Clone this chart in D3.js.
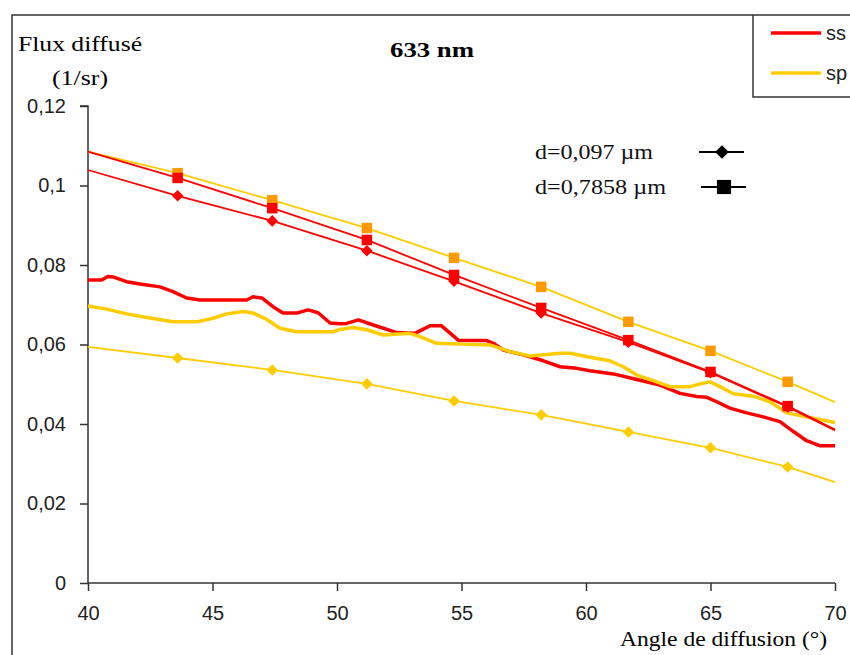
<!DOCTYPE html>
<html><head><meta charset="utf-8">
<script src="https://cdn.jsdelivr.net/npm/d3@7"></script>
<style>body{margin:0;background:#fff;overflow:hidden}</style>
</head><body><svg id="c" width="850" height="655"></svg>
<script>
// ---- data ----
const xTicks = [40, 45, 50, 55, 60, 65, 70];
const yTicks = [0, 0.02, 0.04, 0.06, 0.08, 0.1, 0.12];
const yTickLabels = ["0", "0,02", "0,04", "0,06", "0,08", "0,1", "0,12"];
const seriesNames = ["ss", "sp"];
const modelNames = ["d=0,097 µm", "d=0,7858 µm"];

// model curves (ends at 40 and 70 carry no marker)
const modelAngles = [40, 43.6, 47.4, 51.2, 54.7, 58.2, 61.7, 65.0, 68.1, 70];
const ssThin = [0.1039, 0.0974, 0.0911, 0.0836, 0.0759, 0.0679, 0.0606, 0.0529, 0.0443, 0.0384];
const ssThick = [0.1085, 0.1019, 0.0943, 0.0863, 0.0775, 0.0692, 0.0611, 0.0531, 0.0445, 0.0386];
const spThin = [0.0594, 0.0566, 0.0536, 0.0501, 0.0458, 0.0423, 0.0380, 0.0340, 0.0292, 0.0254];
const spThick = [0.1085, 0.1031, 0.0963, 0.0893, 0.0818, 0.0745, 0.0657, 0.0584, 0.0506, 0.0455];

// measured curves
const ssAngles = [40,40.55,40.8,41.0,41.55,42.09,42.89,43.41,43.96,44.5,46.37,46.63,46.98,47.43,47.83,48.38,48.84,49.24,49.72,50.12,50.39,50.86,51.46,52.4,53.13,53.73,54.2,54.87,56.01,56.28,56.68,57.48,58.29,58.96,59.63,60.16,61.1,62.04,62.97,63.78,64.45,64.85,65.25,65.78,66.45,67.12,67.79,68.33,68.86,69.4,70];
const ssMeas = [0.0762,0.0762,0.0771,0.0770,0.0758,0.0752,0.0745,0.0733,0.0717,0.0712,0.0712,0.0720,0.0717,0.0695,0.0679,0.0679,0.0687,0.0680,0.0654,0.0652,0.0653,0.0662,0.0649,0.0630,0.0628,0.0647,0.0647,0.0611,0.0610,0.0603,0.0586,0.0574,0.0559,0.0544,0.0540,0.0534,0.0526,0.0512,0.0498,0.0477,0.0469,0.0467,0.0456,0.0440,0.0428,0.0418,0.0406,0.0381,0.0358,0.0345,0.0345];
const spAngles = [40,40.75,41.55,42.36,43.41,44.37,45.02,45.57,46.22,46.63,47.18,47.71,48.38,49.84,50.12,50.65,51.19,51.86,52.93,53.33,54.0,56.14,56.95,57.75,58.96,59.36,60.16,60.96,61.5,62.04,62.7,63.37,64.18,64.58,64.98,65.38,65.92,66.72,67.39,68.06,68.86,70];
const spMeas = [0.0697,0.0689,0.0677,0.0668,0.0657,0.0657,0.0666,0.0677,0.0683,0.0679,0.0663,0.0641,0.0632,0.0632,0.0638,0.0643,0.0637,0.0624,0.0628,0.0620,0.0603,0.0599,0.0582,0.0571,0.0578,0.0578,0.0568,0.0559,0.0544,0.0523,0.0509,0.0494,0.0494,0.0501,0.0506,0.0494,0.0476,0.0470,0.0456,0.0428,0.0418,0.0404];

// ---- drawing ----
const RED = "#ff0000", YEL = "#ffcc00", ORA = "#ff9900", AX = "#333";
const SANS = "'Liberation Sans', Arial, sans-serif";
const SERIF = "'Liberation Serif', 'Times New Roman', serif";
const svg = d3.select("#c");
const x = d3.scaleLinear().domain([40, 70]).range([88, 835]);
const y = d3.scaleLinear().domain([0, 0.12]).range([583, 106]);

// outer frame
svg.append("rect").attr("x", 12).attr("y", 15).attr("width", 900).attr("height", 700)
  .attr("fill", "none").attr("stroke", AX).attr("stroke-width", 1.5);

// axes
const yAxis = d3.axisLeft(y).tickValues(yTicks).tickSize(8).tickPadding(14)
  .tickFormat((d, i) => yTickLabels[i]);
const xAxis = d3.axisBottom(x).tickValues(xTicks).tickSize(8).tickPadding(15)
  .tickFormat(d => String(d));
function styleAxis(g) {
  g.select(".domain").attr("stroke", AX).attr("stroke-width", 1.5);
  g.selectAll(".tick line").attr("stroke", AX).attr("stroke-width", 1.5);
  g.selectAll(".tick text").attr("fill", "#222").style("font-family", SANS).style("font-size", "20px");
}
svg.append("g").attr("transform", "translate(88,0)").call(yAxis).call(styleAxis)
  .select(".domain").attr("d", `M-8,${y(0.12)}H0V${y(0)}`);
svg.append("g").attr("transform", "translate(0,583)").call(xAxis).call(styleAxis)
  .select(".domain").attr("d", `M${x(40)},0H${x(70)}`);

// lines
const line = d3.line().x(d => x(d[0])).y(d => y(d[1]));
function drawLine(ax, vals, color, w) {
  svg.append("path").datum(ax.map((a, i) => [a, vals[i]]))
    .attr("d", line).attr("fill", "none").attr("stroke", color)
    .attr("stroke-width", w).attr("stroke-linejoin", "round");
}
drawLine(ssAngles, ssMeas, RED, 3.5);
drawLine(spAngles, spMeas, YEL, 3.5);
drawLine(modelAngles, spThin, YEL, 1.8);
drawLine(modelAngles, spThick, YEL, 1.8);
drawLine(modelAngles, ssThin, RED, 1.8);
drawLine(modelAngles, ssThick, RED, 1.8);

// markers
const diamond = d3.symbol().type(d3.symbolDiamond2).size(85);
const square = d3.symbol().type(d3.symbolSquare).size(110);
function drawMarks(vals, sym, color) {
  const pts = modelAngles.map((a, i) => [a, vals[i]]).slice(1, -1);
  svg.append("g").selectAll("path").data(pts).join("path")
    .attr("d", sym).attr("fill", color)
    .attr("transform", d => `translate(${x(d[0])},${y(d[1])})`);
}
drawMarks(spThin, diamond, YEL);
drawMarks(spThick, square, ORA);
drawMarks(ssThin, diamond, RED);
drawMarks(ssThick, square, RED);

// titles
svg.append("text").attr("x", 18).attr("y", 51).text("Flux diffusé")
  .style("font-family", SERIF).style("font-size", "22px")
  .attr("textLength", 124).attr("lengthAdjust", "spacingAndGlyphs");
svg.append("text").attr("x", 52).attr("y", 85).text("(1/sr)")
  .style("font-family", SERIF).style("font-size", "22px")
  .attr("textLength", 56).attr("lengthAdjust", "spacingAndGlyphs");
svg.append("text").attr("x", 390).attr("y", 57).text("633 nm")
  .style("font-family", SERIF).style("font-size", "21px").style("font-weight", "bold")
  .attr("textLength", 84).attr("lengthAdjust", "spacingAndGlyphs");
svg.append("text").attr("x", 620).attr("y", 646).text("Angle de diffusion (°)")
  .style("font-family", SERIF).style("font-size", "20px")
  .attr("textLength", 207).attr("lengthAdjust", "spacingAndGlyphs");

// inner legend (marker shapes)
const legY = [152, 187];
const legShapes = [d3.symbol().type(d3.symbolDiamond2).size(120), d3.symbol().type(d3.symbolSquare).size(200)];
const legLen = [118, 131];
modelNames.forEach((n, i) => {
  svg.append("text").attr("x", 535).attr("y", legY[i] + 7).text(n)
    .style("font-family", SERIF).style("font-size", "21px").attr("fill", "#111")
    .attr("textLength", legLen[i]).attr("lengthAdjust", "spacingAndGlyphs");
  svg.append("line").attr("x1", 699 + i * 2).attr("x2", 744 + i * 2)
    .attr("y1", legY[i]).attr("y2", legY[i]).attr("stroke", "#000").attr("stroke-width", 1.8);
  svg.append("path").attr("d", legShapes[i]).attr("fill", "#000")
    .attr("transform", `translate(${722 + i * 2},${legY[i]})`);
});

// series legend box
svg.append("path").attr("d", "M753,15V97H860").attr("fill", "none").attr("stroke", AX).attr("stroke-width", 1.5);
const sColors = [RED, YEL];
seriesNames.forEach((n, i) => {
  const yy = 33 + i * 40;
  svg.append("line").attr("x1", 771).attr("x2", 821).attr("y1", yy).attr("y2", yy)
    .attr("stroke", sColors[i]).attr("stroke-width", 3.5);
  svg.append("text").attr("x", 826).attr("y", yy + 7).text(n)
    .style("font-family", SANS).style("font-size", "20px").attr("fill", "#222");
});
</script></body></html>
